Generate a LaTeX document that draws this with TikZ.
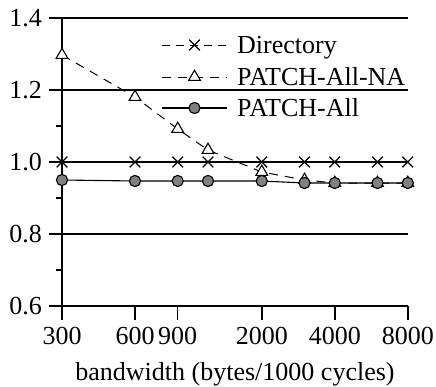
\documentclass[tikz,border=0pt]{standalone}
\usepackage{fontspec}
\setmainfont{Liberation Serif}
\usetikzlibrary{plotmarks}
\begin{document}
\begin{tikzpicture}[x=1pt,y=-1pt,
  grid/.style={line width=1.4pt},
  axisline/.style={line width=1.4pt},
  dirline/.style={line width=1pt,dash pattern=on 8pt off 6pt,mark=x,mark size=7.5pt,mark options={solid,line width=1.3pt}},
  naline/.style={line width=1pt,dash pattern=on 9pt off 7pt,mark=triangle*,mark size=6.8pt,mark options={solid,fill=white,line width=1.1pt}},
  allline/.style={line width=1.1pt,mark=*,mark size=5.6pt,mark options={fill=gray,line width=1.1pt}},
  lbl/.style={font=\fontsize{26}{31}\selectfont,inner sep=0pt}
]
\useasboundingbox (0,0) rectangle (436,386);
% grid lines
\foreach \yy in {18,90,162,234} \draw[grid] (49,\yy) -- (408,\yy);
% axes
\draw[axisline] (62,18) -- (62,320);
\draw[axisline] (49,306) -- (408,306);
\foreach \xx in {135,177.7,261.8,334.8,407.8} \draw[axisline] (\xx,306) -- (\xx,320);
\foreach \yy in {126,198,270} \draw[axisline] (56,\yy) -- (62,\yy);
% y labels
\node[lbl,anchor=east] (y14) at (42,18) {1.4};
\node[lbl,anchor=east] (y12) at (42,90) {1.2};
\node[lbl,anchor=east] (y10) at (42,162) {1.0};
\node[lbl,anchor=east] (y08) at (42,234) {0.8};
\node[lbl,anchor=east] (y06) at (42,306) {0.6};
% x labels
\node[lbl,anchor=base] (x300) at (62,344) {300};
\node[lbl,anchor=base] (x600) at (135,344) {600};
\node[lbl,anchor=base] (x900) at (177.7,344) {900};
\node[lbl,anchor=base] (x2000) at (261.8,344) {2000};
\node[lbl,anchor=base] (x4000) at (334.8,344) {4000};
\node[lbl,anchor=base] (x8000) at (407.8,344) {8000};
\node[lbl,anchor=base] (xt) at (235,380) {bandwidth (bytes/1000 cycles)};
% data
\draw[dirline] plot coordinates {(62,162) (135,162) (177.7,162) (208,162) (261.8,162) (304.5,162) (334.8,162) (377.5,162) (407.8,162)};
\draw[naline] plot coordinates {(62,55) (135,97) (177.7,129) (208,150) (261.8,172) (304.5,180) (334.8,183) (377.5,183) (407.8,183)};
\draw[allline] plot coordinates {(62,180) (135,181) (177.7,181) (208,181) (261.8,181) (304.5,183) (334.8,183) (377.5,183) (407.8,183)};
% legend
\coordinate (l1a) at (162,45); \coordinate (l1b) at (227,45);
\coordinate (l2a) at (162,77); \coordinate (l2b) at (227,77);
\coordinate (l3a) at (162,108); \coordinate (l3b) at (227,108);
\draw[dirline,mark=none] (l1a) -- (l1b);
\draw[dirline] plot coordinates {(194.5,45)};
\draw[naline,mark=none] (l2a) -- (l2b);
\draw[naline] plot coordinates {(194.5,77)};
\draw[allline,mark=none] (l3a) -- (l3b);
\draw[allline] plot coordinates {(194.5,108)};
\node[lbl,anchor=base west] (t1) at (237,53) {Directory};
\node[lbl,anchor=base west] (t2) at (237,85) {PATCH-All-NA};
\node[lbl,anchor=base west] (t3) at (237,116) {PATCH-All};
\end{tikzpicture}
\end{document}
